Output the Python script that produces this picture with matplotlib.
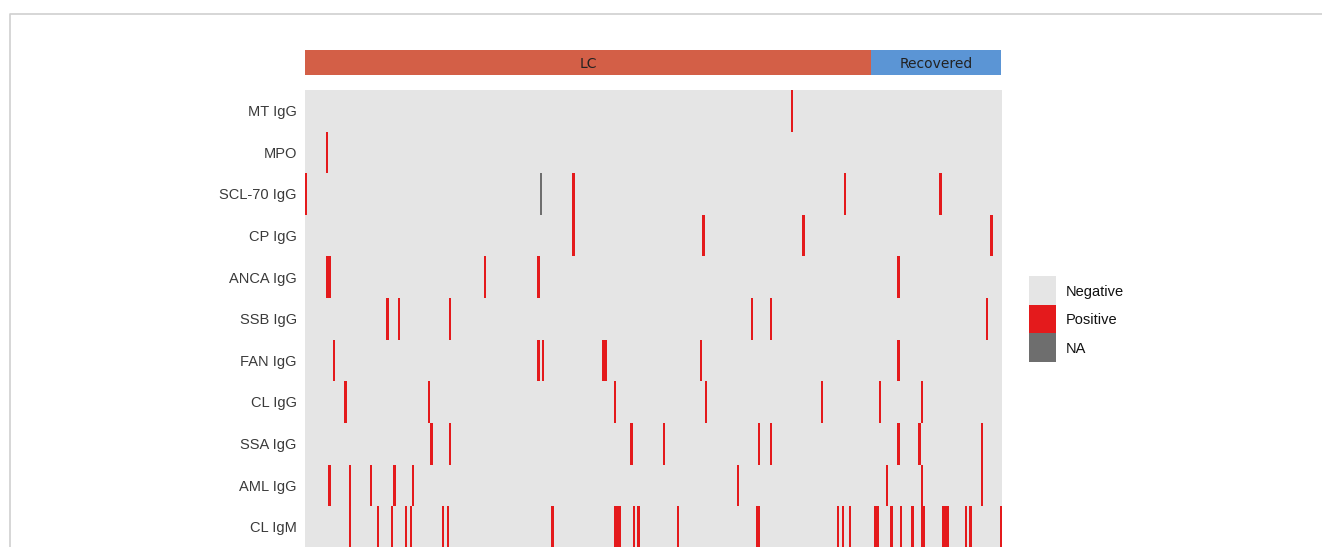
import numpy as np
import matplotlib
matplotlib.use("Agg")
import matplotlib.pyplot as plt
from matplotlib.colors import ListedColormap
from matplotlib.patches import Rectangle
from matplotlib.lines import Line2D

# sample groups (columns, in order)
n_lc = 244
n_recovered = 56
groups = ["LC", "Recovered"]

# antibody panel, top to bottom
markers = ["MT IgG", "MPO", "SCL-70 IgG", "CP IgG", "ANCA IgG", "SSB IgG",
           "FAN IgG", "CL IgG", "SSA IgG", "AML IgG", "CL IgM"]

# positive sample indices per antibody
pos_mt_igg = [209]
pos_mpo = [9]
pos_scl70_igg = [0, 115, 232, 273]
pos_cp_igg = [115, 171, 214, 295]
pos_anca_igg = [9, 10, 77, 100, 255]
pos_ssb_igg = [35, 40, 62, 192, 200, 293]
pos_fan_igg = [12, 100, 102, 128, 129, 170, 255]
pos_cl_igg = [17, 53, 133, 172, 222, 247, 265]
pos_ssa_igg = [54, 62, 140, 154, 195, 200, 255, 264, 291]
pos_aml_igg = [10, 19, 28, 38, 46, 186, 250, 265, 291]
pos_cl_igm = [19, 31, 37, 43, 45, 59, 61, 106, 133, 134, 135, 141, 143, 160,
              194, 195, 229, 231, 234, 245, 246, 252, 256, 261, 265, 266,
              274, 275, 276, 284, 286, 299]

# samples without a result
na_scl70_igg = [101]

positives = [pos_mt_igg, pos_mpo, pos_scl70_igg, pos_cp_igg, pos_anca_igg,
             pos_ssb_igg, pos_fan_igg, pos_cl_igg, pos_ssa_igg, pos_aml_igg,
             pos_cl_igm]
missing = {"SCL-70 IgG": na_scl70_igg}

status_labels = ["Negative", "Positive", "NA"]
status_colors = ["#E5E5E5", "#E41A1C", "#6E6E6E"]
group_colors = ["#D35F47", "#5B95D5"]

n_samples = n_lc + n_recovered
mat = np.zeros((len(markers), n_samples))
for i, idx in enumerate(positives):
    mat[i, idx] = 1
for name, idx in missing.items():
    mat[markers.index(name), idx] = 2

W, H = 1322, 547
fig = plt.figure(figsize=(W / 100, H / 100), dpi=100)
fig.patch.set_facecolor("white")

# outer frame
fig.add_artist(Line2D([10 / W, 10 / W, 1], [0, 1 - 14 / H, 1 - 14 / H],
                      transform=fig.transFigure, color="#D0D0D0", lw=1.2))

# main heatmap
row_h = 41.6
hm_h = row_h * len(markers)
ax = fig.add_axes([305 / W, (H - 90 - hm_h) / H, 696 / W, hm_h / H])
ax.imshow(mat, aspect="auto", interpolation="nearest",
          cmap=ListedColormap(status_colors), vmin=-0.5, vmax=2.5)
ax.set_yticks(range(len(markers)))
ax.set_yticklabels(markers, fontsize=10.5, color="#3A3A3A",
                   family=["Liberation Sans", "DejaVu Sans"])
ax.tick_params(axis="y", length=0, pad=6)
ax.set_xticks([])
for s in ax.spines.values():
    s.set_visible(False)

# group annotation bar
ax_top = fig.add_axes([305 / W, 1 - 75 / H, 696 / W, 25 / H])
ax_top.set_xlim(0, n_samples)
ax_top.set_ylim(0, 1)
starts = [0, n_lc]
widths = [n_lc, n_recovered]
for g, x0, w, c in zip(groups, starts, widths, group_colors):
    ax_top.add_patch(Rectangle((x0, 0), w, 1, facecolor=c, edgecolor="none"))
    ax_top.text(x0 + w / 2, 0.42, g, ha="center", va="center", fontsize=10,
                color="#222222")
ax_top.axis("off")

# legend
for k, (lab, c) in enumerate(zip(status_labels, status_colors)):
    y0 = 276 + k * 28.5
    fig.add_artist(Rectangle((1029 / W, 1 - (y0 + 28.5) / H), 27 / W, 28.5 / H,
                             transform=fig.transFigure, facecolor=c,
                             edgecolor="none"))
    fig.text(1066 / W, 1 - (y0 + 16) / H, lab, ha="left", va="center",
             fontsize=10.5, color="#111111",
             family=["Liberation Sans", "DejaVu Sans"])

fig.savefig("out.png", dpi=100)
